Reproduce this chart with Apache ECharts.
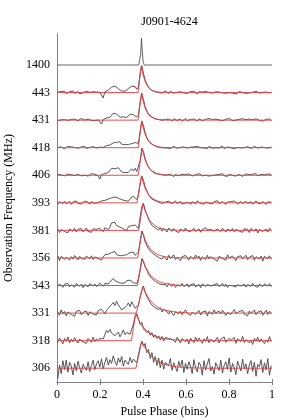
<!DOCTYPE html>
<html><head><meta charset="utf-8">
<script src="https://cdn.jsdelivr.net/npm/echarts@6/dist/echarts.min.js"></script>
<style>html,body{margin:0;padding:0;background:#fff}#c{width:294px;height:420px}</style>
</head><body><div id="c"></div>
<script>
// Frequency labels, bottom to top
const freqLabels = ['306','318','331','343','356','381','393','406','418','431','443','1400'];
const xTicks = [0, 0.2, 0.4, 0.6, 0.8, 1];
const titleText = 'J0901-4624';

// Observed profiles: 128 phase bins each, intensity in % of peak
const p443 = [2,-3,4,-1,5,-4,1,3,-2,6,-3,0,4,-5,2,-1,
3,5,-2,1,-4,3,0,2,-3,1,-2,-20,3,6,9,12,
20,16,24,18,14,9,6,10,5,12,15,20,24,18,22,12,
22,72,100,70,46,31,20,16,8,9,3,6,0,4,-2,3,
6,2,-3,5,0,-2,4,1,-4,3,6,-1,2,-3,0,4,
-2,5,1,-5,3,0,2,-1,4,-3,1,6,-2,0,3,-4,
2,5,-1,1,-3,4,0,2,-2,3,-5,1,4,-1,0,6,
-3,2,-1,3,1,-4,5,0,-2,3,1,-3,2,4,-1,0];
const p431 = [-2,3,1,-4,2,5,-1,0,3,-3,4,1,-2,2,6,-1,
0,-3,4,2,-1,5,-2,3,1,4,-15,2,5,8,12,10,
18,26,30,22,16,11,8,12,7,10,14,22,18,20,13,11,
20,68,100,76,50,34,22,15,12,7,5,6,2,3,-1,2,
3,-2,4,1,-3,5,2,-1,0,4,-4,2,6,-2,1,3,
-1,4,0,-3,5,2,-2,1,3,-4,6,0,2,-1,4,-2,
1,5,-3,0,3,-1,6,2,-2,4,0,-4,3,1,5,-1,
2,-3,4,0,1,-2,5,3,-1,2,-4,1,3,0,4,-2];
const p418 = [1,-2,3,0,-4,2,5,-1,3,-3,1,4,-2,0,3,-1,
5,-3,2,1,-2,4,0,-1,3,2,6,1,4,8,5,10,
14,18,12,20,16,22,13,9,11,7,12,10,15,14,19,12,
16,62,98,82,56,38,26,18,13,9,6,3,4,1,2,-1,
4,-1,3,-3,2,5,0,-2,4,1,-3,3,6,-1,0,2,
-4,3,1,5,-2,0,4,-1,2,-3,5,1,-2,3,0,4,
-1,2,6,-3,1,3,-2,0,5,-4,2,1,4,-1,3,0,
-2,4,1,-3,2,5,0,-1,3,2,-4,1,4,-2,0,3];
const p406 = [3,-4,1,5,-2,0,4,-3,2,6,-1,-4,3,1,-2,5,
0,3,-3,2,6,-1,4,1,-2,-14,3,1,6,4,10,8,
26,32,24,18,28,20,12,8,10,6,11,18,24,16,26,14,
14,56,100,88,62,44,30,21,15,10,8,5,3,4,1,0,
5,1,-3,4,0,-5,3,6,-2,1,4,-3,2,-1,5,0,
-3,4,2,-4,6,1,-2,3,0,5,-3,2,-1,4,1,-5,
3,0,6,-2,1,-4,4,2,-1,5,-3,0,3,1,-4,2,
5,-1,2,-3,4,0,6,-2,1,3,-4,2,0,5,-1,3];
const p393 = [-5,4,1,-2,6,-3,2,5,-6,3,0,7,-2,4,-4,1,
6,-1,3,-5,4,8,-2,5,1,-3,7,2,9,6,14,20,
18,24,22,26,17,21,12,15,8,13,6,16,20,25,18,12,
30,74,100,84,58,46,29,26,14,15,8,9,2,6,-2,5,
2,-5,6,1,-3,4,7,-2,0,5,-4,3,-1,6,2,-6,
4,0,-3,7,1,-2,5,-5,3,6,-1,2,-4,4,0,8,
-3,2,5,-1,-6,3,1,4,-2,7,0,-4,3,5,-3,1,
6,-2,0,4,-5,2,7,-1,3,-3,5,1,-6,4,-2,2];
const p381 = [6,-8,3,10,-4,1,-9,5,2,-3,8,-6,4,-1,7,-5,
2,9,-4,3,-7,6,0,4,-2,8,3,-5,10,6,3,12,
28,22,30,18,24,12,15,6,10,-2,14,8,18,12,20,16,
8,50,88,100,74,60,41,36,19,22,9,14,1,10,-3,7,
4,-6,8,1,-4,7,-2,3,-8,5,2,-3,9,-1,6,-5,
2,8,-4,0,6,-7,3,-2,10,1,-5,4,7,-3,-9,5,
0,-4,8,3,-6,5,1,-2,7,-5,4,9,-3,2,-7,6,
-1,4,-8,7,2,-3,6,-10,3,8,-4,1,5,-6,9,2];
const p356 = [8,-10,6,12,-6,3,10,-8,5,-4,9,2,-7,6,-2,4,
-5,7,2,-3,8,-6,4,10,-2,5,-8,3,12,6,14,9,
20,16,24,12,18,8,14,10,4,12,16,20,14,22,10,16,
22,64,100,84,60,56,34,33,20,19,10,13,2,9,-4,6,
5,-8,10,-3,4,12,-6,2,8,-10,5,-2,9,1,-7,6,
3,-5,11,-1,7,-9,4,2,-6,10,-3,5,8,-4,1,-12,
6,9,-2,4,-8,12,0,-5,7,3,-10,5,-1,8,-4,2,
10,-6,3,-2,9,-9,5,1,-4,7,-12,6,2,-3,8,-5];
const p343 = [-4,6,2,-7,5,-1,8,-5,3,0,-6,7,2,-3,5,-8,
4,1,-5,7,3,-2,6,-4,2,9,5,-3,8,12,6,14,
20,26,18,22,12,16,8,14,10,18,12,20,16,10,14,8,
26,62,100,88,68,59,42,40,26,25,15,18,8,12,3,9,
4,-5,7,0,-3,6,-7,2,5,-2,8,-4,1,6,-6,3,
-1,7,-5,2,4,-8,6,0,-3,5,9,-2,-6,3,1,7,
-4,2,8,-3,5,-7,1,4,-1,6,-5,3,7,-2,0,5,
-6,4,1,-3,8,-1,2,-7,5,3,-4,6,0,-2,7,-5];
const p331 = [5,-8,12,-3,6,-10,4,9,-5,2,-12,7,0,10,-6,3,
-2,8,-9,5,11,-4,2,-7,9,3,14,6,-3,10,18,24,
32,40,28,44,30,22,12,6,20,28,38,24,42,30,18,18,
30,62,84,100,76,70,50,48,30,34,20,26,12,20,4,14,
10,6,-4,8,2,-9,5,11,-3,7,-6,4,12,-1,6,-8,
3,9,-5,1,10,-7,4,-2,8,-11,6,2,-4,12,0,-6,
7,-3,11,4,-9,2,8,-5,5,13,-2,-8,6,1,10,-4,
3,-10,8,-1,5,12,-6,4,-3,9,-8,2,11,-5,7,-2];
const p318 = [-6,10,3,-12,8,-2,14,-8,5,-4,11,0,-9,6,12,-5,
2,-10,8,4,-6,13,-3,7,-1,9,15,6,12,38,30,42,
28,34,18,24,32,14,26,40,22,30,36,24,30,62,90,100,
82,60,68,44,50,30,38,20,30,12,22,8,18,2,16,-2,
12,15,8,14,5,10,-6,12,3,-9,8,14,-4,6,-12,9,
2,-7,13,-3,10,4,-10,7,-2,15,-8,5,11,-5,-1,12,
-9,6,3,14,-6,-13,9,1,-4,12,-10,7,5,-3,16,-7,
4,11,-8,2,-14,8,-2,13,-5,6,10,-11,3,-6,15,-3];
const p306 = [-38,12,-20,28,-5,30,-15,22,8,-25,18,-10,26,2,-18,14,
20,-8,24,-12,10,30,-6,16,28,4,35,-2,22,40,12,32,
18,46,26,10,38,22,44,8,30,36,14,40,20,34,28,20,
52,80,100,82,92,58,70,36,58,22,44,10,38,2,30,-4,
22,28,10,36,-8,20,14,-12,26,4,30,-16,18,-4,24,8,
-20,32,2,-14,22,12,-26,28,-6,16,36,-10,6,-22,20,14,
-8,30,-18,10,24,-4,38,-14,18,2,-24,26,8,-10,34,-2,
16,-20,12,28,-12,22,-30,14,6,32,-16,20,-6,36,-26,10];
// 1400 MHz template profile: [phase, % of peak]
const p1400 = [[0,0],[0.380,0],[0.385,6],[0.389,40],[0.393,100],[0.397,45],[0.401,10],[0.406,0],[1,0]];

// Fitted scattering models: [phase, % of peak]
const fit443 = [[0,0],[0.377,0],[0.392,100],[0.40,67],[0.41,41],[0.42,25],[0.43,15],[0.44,9],[0.46,3],[0.50,0],[1,0]];
const fit431 = [[0,0],[0.377,0],[0.393,100],[0.40,72],[0.41,45],[0.42,28],[0.43,17],[0.44,11],[0.46,4],[0.50,0],[1,0]];
const fit418 = [[0,0],[0.378,0],[0.394,100],[0.40,77],[0.41,50],[0.42,32],[0.43,21],[0.44,14],[0.46,6],[0.48,2],[0.52,0],[1,0]];
const fit406 = [[0,0],[0.378,0],[0.396,100],[0.40,85],[0.41,57],[0.42,38],[0.43,26],[0.44,17],[0.46,8],[0.48,3],[0.52,0],[1,0]];
const fit393 = [[0,0],[0.372,0],[0.393,100],[0.40,78],[0.41,54],[0.42,38],[0.43,27],[0.44,19],[0.46,9],[0.48,4],[0.50,2],[0.55,0],[1,0]];
const fit381 = [[0,0],[0.380,0],[0.400,100],[0.41,73],[0.42,54],[0.43,39],[0.44,29],[0.46,15],[0.48,8],[0.50,4],[0.55,1],[0.60,0],[1,0]];
const fit356 = [[0,0],[0.375,0],[0.396,100],[0.41,67],[0.42,50],[0.43,38],[0.44,28],[0.46,16],[0.48,9],[0.50,5],[0.55,1],[0.60,0],[1,0]];
const fit343 = [[0,0],[0.374,0],[0.397,100],[0.41,72],[0.42,56],[0.43,44],[0.44,34],[0.46,21],[0.48,13],[0.50,8],[0.55,2],[0.60,0],[1,0]];
const fit331 = [[0,0],[0.369,0],[0.400,100],[0.41,80],[0.42,64],[0.43,51],[0.44,41],[0.46,26],[0.48,17],[0.50,11],[0.55,4],[0.60,1],[0.65,0],[1,0]];
const fit318 = [[0,0],[0.346,0],[0.366,100],[0.38,76],[0.39,62],[0.40,51],[0.42,34],[0.44,23],[0.46,15],[0.48,10],[0.50,7],[0.55,3],[0.60,1],[0.65,0],[1,0]];
const fit306 = [[0,0],[0.367,0],[0.394,100],[0.41,75],[0.43,52],[0.45,36],[0.47,25],[0.50,15],[0.53,8],[0.56,5],[0.60,2],[0.70,0],[1,0]];

const observed = [p306,p318,p331,p343,p356,p381,p393,p406,p418,p431,p443];
const fits = [fit306,fit318,fit331,fit343,fit356,fit381,fit393,fit406,fit418,fit431,fit443];

const AMP = 1.95;       // vertical size of a 100% profile, in axis units
const base = i => 2*i + 1;
const FONT = 'Liberation Serif';

const series = [];
observed.forEach((prof, i) => {
  series.push({
    type: 'line', symbol: 'none', silent: true, z: 2,
    lineStyle: { color: '#444', width: 0.9 },
    data: prof.map((v, k) => [(k + 0.5) / prof.length, base(i) + v / 100 * AMP])
  });
});
fits.forEach((f, i) => {
  series.push({
    type: 'line', symbol: 'none', silent: true, z: 3,
    lineStyle: { color: '#e5383d', width: 0.9 },
    data: f.map(p => [p[0], base(i) + p[1] / 100 * AMP])
  });
});
series.push({
  type: 'line', symbol: 'none', silent: true, z: 2,
  lineStyle: { color: '#555', width: 0.9 },
  data: p1400.map(p => [p[0], base(11) + p[1] / 100 * AMP])
});

const chart = echarts.init(document.getElementById('c'), null, { renderer: 'canvas' });
const axisLine = { show: true, lineStyle: { color: '#808080', width: 1 } };
chart.setOption({
  animation: false,
  backgroundColor: '#fff',
  title: { text: titleText, left: 164.5, textAlign: 'center', top: 11,
    textStyle: { fontFamily: FONT, fontSize: 12, fontWeight: 'normal', color: '#000' } },
  grid: { left: 57, right: 22, top: 34, bottom: 38, containLabel: false, outerBoundsMode: 'none' },
  xAxis: [
    { type: 'value', min: 0, max: 1, interval: 0.2, position: 'bottom',
      axisLine, splitLine: { show: false },
      axisTick: { show: true, inside: true, length: 3, lineStyle: { color: '#808080' } },
      axisLabel: { fontFamily: FONT, fontSize: 12, color: '#000', margin: 7,
        formatter: v => { const t = xTicks.find(x => Math.abs(x - v) < 1e-9); return t === undefined ? '' : String(t); } },
      name: 'Pulse Phase (bins)', nameLocation: 'middle', nameGap: 24,
      nameTextStyle: { fontFamily: FONT, fontSize: 12, color: '#000' } },
    { type: 'value', min: 0, max: 1, interval: 0.2, position: 'top',
      axisLine, splitLine: { show: false }, axisLabel: { show: false },
      axisTick: { show: true, inside: true, length: 3, lineStyle: { color: '#808080' } } }
  ],
  yAxis: [
    { type: 'value', min: 0, max: 25.25, interval: 1, position: 'left',
      axisLine, axisTick: { show: false }, splitLine: { show: false },
      axisLabel: { fontFamily: FONT, fontSize: 12, color: '#000', margin: 7, showMaxLabel: false,
        formatter: v => (Math.round(v) === v && v % 2 === 1) ? freqLabels[(v - 1) / 2] : '' },
      name: 'Observation Frequency (MHz)', nameLocation: 'middle', nameGap: 40, nameRotate: 90,
      nameTextStyle: { fontFamily: FONT, fontSize: 12, color: '#000' } },
    { type: 'value', min: 0, max: 25.25, position: 'right',
      axisLine, axisTick: { show: false }, splitLine: { show: false }, axisLabel: { show: false } }
  ],
  series
});
</script>
</body></html>
